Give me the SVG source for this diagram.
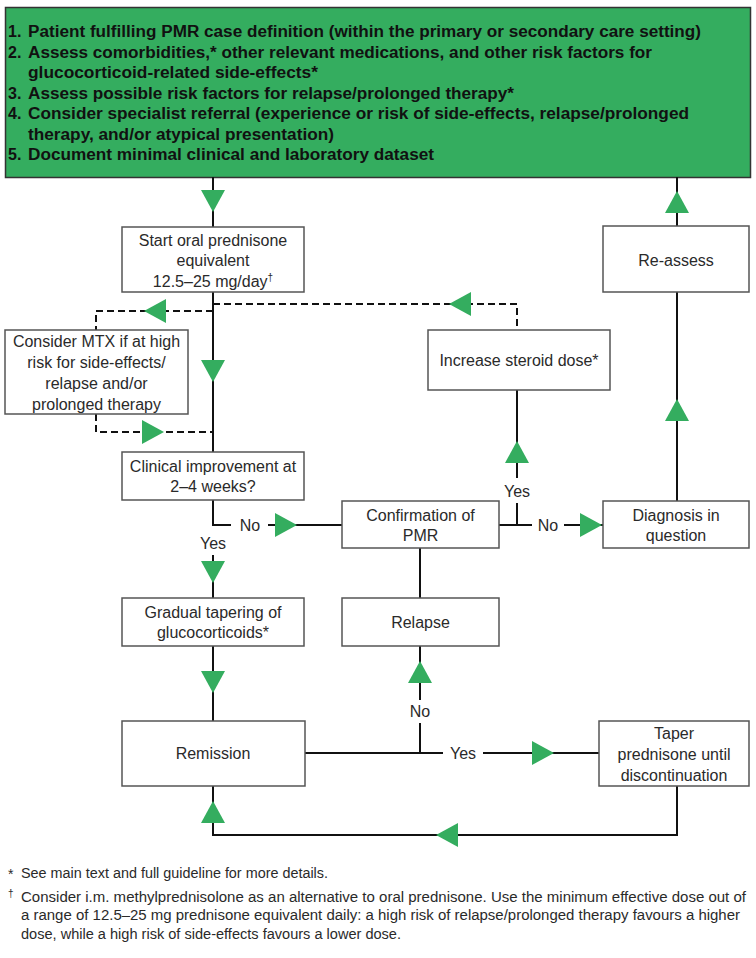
<svg xmlns="http://www.w3.org/2000/svg" width="756" height="958" viewBox="0 0 756 958">
<defs>
<style>
.bg{fill:#ffffff}
.box{fill:#ffffff;stroke:#555555;stroke-width:1.5}
.hdr{fill:#34ad5f;stroke:#333333;stroke-width:1.5}
.t{font-family:"Liberation Sans",Arial,sans-serif;font-size:16px;fill:#2a2a2a;text-anchor:middle}
.b{font-family:"Liberation Sans",Arial,sans-serif;font-size:16px;font-weight:bold;fill:#111111}
.f{font-family:"Liberation Sans",Arial,sans-serif;font-size:14px;fill:#2a2a2a}
.sup{font-size:10px}
.ln{fill:none;stroke:#111111;stroke-width:2}
.dash{fill:none;stroke:#111111;stroke-width:2;stroke-dasharray:7 4}
.ar{fill:#34ad5f}
.lbl{font-family:"Liberation Sans",Arial,sans-serif;font-size:16px;fill:#2a2a2a;text-anchor:middle}
</style>
<path id="aD" d="M-12,-11 L12,-11 L0,11 Z"/>
<path id="aU" d="M-12,11 L12,11 L0,-11 Z"/>
<path id="aR" d="M-11,-12 L-11,12 L11,0 Z"/>
<path id="aL" d="M11,-12 L11,12 L-11,0 Z"/>
</defs>
<rect class="bg" x="0" y="0" width="756" height="958"/>

<g id="header">
<rect class="hdr" x="5.5" y="7.5" width="745" height="170"/>
<text class="b" x="8" y="37">1.</text>
<text class="b" x="28" y="37" textLength="673" lengthAdjust="spacingAndGlyphs">Patient fulfilling PMR case definition (within the primary or secondary care setting)</text>
<text class="b" x="8" y="57.5">2.</text>
<text class="b" x="28" y="57.5" textLength="624" lengthAdjust="spacingAndGlyphs">Assess comorbidities,* other relevant medications, and other risk factors for</text>
<text class="b" x="28" y="77.5" textLength="290" lengthAdjust="spacingAndGlyphs">glucocorticoid-related side-effects*</text>
<text class="b" x="8" y="98.5">3.</text>
<text class="b" x="28" y="98.5" textLength="486" lengthAdjust="spacingAndGlyphs">Assess possible risk factors for relapse/prolonged therapy*</text>
<text class="b" x="8" y="118.5">4.</text>
<text class="b" x="28" y="118.5" textLength="661" lengthAdjust="spacingAndGlyphs">Consider specialist referral (experience or risk of side-effects, relapse/prolonged</text>
<text class="b" x="28" y="139.5" textLength="306" lengthAdjust="spacingAndGlyphs">therapy, and/or atypical presentation)</text>
<text class="b" x="8" y="159.5">5.</text>
<text class="b" x="28" y="159.5" textLength="406" lengthAdjust="spacingAndGlyphs">Document minimal clinical and laboratory dataset</text>
</g>

<g id="connectors">
<path class="ln" d="M213,177 V227"/>
<path class="ln" d="M213,292 V452"/>
<path class="dash" d="M213,304 H517 V330"/>
<path class="dash" d="M213,311 H96 V330"/>
<path class="dash" d="M96,414 V432 H213"/>
<path class="ln" d="M213,500 V525 H231"/>
<path class="ln" d="M268,525 H342"/>
<path class="ln" d="M213,555 V598"/>
<path class="ln" d="M499,525 H532"/>
<path class="ln" d="M564,525 H603"/>
<path class="ln" d="M517,525 V503"/>
<path class="ln" d="M517,478 V390"/>
<path class="ln" d="M677,501 V292"/>
<path class="ln" d="M677,226 V177"/>
<path class="ln" d="M420,548 V598"/>
<path class="ln" d="M420,646 V700"/>
<path class="ln" d="M420,723 V753"/>
<path class="ln" d="M305,753 H443"/>
<path class="ln" d="M483,753 H599"/>
<path class="ln" d="M213,646 V721"/>
<path class="ln" d="M677,786 V835 H213 V786"/>
<use href="#aD" class="ar" x="213" y="201"/>
<use href="#aL" class="ar" x="460" y="304"/>
<use href="#aL" class="ar" x="155" y="311"/>
<use href="#aD" class="ar" x="213" y="371"/>
<use href="#aR" class="ar" x="153" y="432"/>
<use href="#aR" class="ar" x="286" y="525"/>
<use href="#aD" class="ar" x="213" y="572"/>
<use href="#aR" class="ar" x="591" y="525"/>
<use href="#aU" class="ar" x="517" y="452"/>
<use href="#aU" class="ar" x="677" y="410"/>
<use href="#aU" class="ar" x="677" y="202"/>
<use href="#aU" class="ar" x="420" y="672"/>
<use href="#aR" class="ar" x="543" y="753"/>
<use href="#aD" class="ar" x="213" y="682"/>
<use href="#aL" class="ar" x="447" y="835"/>
<use href="#aU" class="ar" x="213" y="812"/>
<text class="lbl" x="250" y="530.5">No</text>
<text class="lbl" x="213" y="548.5">Yes</text>
<text class="lbl" x="548" y="530.5">No</text>
<text class="lbl" x="517" y="497">Yes</text>
<text class="lbl" x="420" y="717">No</text>
<text class="lbl" x="463" y="758.5">Yes</text>
</g>

<g id="start">
<rect class="box" x="122" y="227" width="182" height="65"/>
<text class="t" x="213" y="245.5">Start oral prednisone</text>
<text class="t" x="213" y="265.5">equivalent</text>
<text class="t" x="213" y="286.5">12.5–25 mg/day<tspan class="sup" dy="-6">†</tspan></text>
</g>

<g id="mtx">
<rect class="box" x="5" y="330" width="183" height="84"/>
<text class="t" x="96.5" y="347">Consider MTX if at high</text>
<text class="t" x="96.5" y="368">risk for side-effects/</text>
<text class="t" x="96.5" y="389">relapse and/or</text>
<text class="t" x="96.5" y="409.5">prolonged therapy</text>
</g>

<g id="increase">
<rect class="box" x="428" y="330" width="182" height="60"/>
<text class="t" x="519" y="366">Increase steroid dose*</text>
</g>

<g id="reassess">
<rect class="box" x="603" y="226" width="146" height="66"/>
<text class="t" x="676" y="265.5">Re-assess</text>
</g>

<g id="clinical">
<rect class="box" x="122" y="452" width="182" height="48"/>
<text class="t" x="213" y="471.5">Clinical improvement at</text>
<text class="t" x="213" y="492">2–4 weeks?</text>
</g>

<g id="confirmation">
<rect class="box" x="342" y="501" width="157" height="47"/>
<text class="t" x="420.5" y="520.5">Confirmation of</text>
<text class="t" x="420.5" y="541">PMR</text>
</g>

<g id="diagnosis">
<rect class="box" x="603" y="501" width="146" height="47"/>
<text class="t" x="676" y="520.5">Diagnosis in</text>
<text class="t" x="676" y="540.5">question</text>
</g>

<g id="tapering">
<rect class="box" x="122" y="598" width="182" height="48"/>
<text class="t" x="213" y="618">Gradual tapering of</text>
<text class="t" x="213" y="638">glucocorticoids*</text>
</g>

<g id="relapse">
<rect class="box" x="342" y="598" width="157" height="48"/>
<text class="t" x="420.5" y="628">Relapse</text>
</g>

<g id="remission">
<rect class="box" x="122" y="721" width="183" height="65"/>
<text class="t" x="213" y="758.5">Remission</text>
</g>

<g id="taper">
<rect class="box" x="599" y="721" width="150" height="65"/>
<text class="t" x="674" y="738.5">Taper</text>
<text class="t" x="674" y="759.5">prednisone until</text>
<text class="t" x="674" y="780.5">discontinuation</text>
</g>

<g id="footnotes">
<text class="f" x="8" y="879">*</text>
<text class="f" x="21" y="878" textLength="307" lengthAdjust="spacingAndGlyphs">See main text and full guideline for more details.</text>
<text class="f sup" x="8" y="897">†</text>
<text class="f" x="21" y="902" textLength="725" lengthAdjust="spacingAndGlyphs">Consider i.m. methylprednisolone as an alternative to oral prednisone. Use the minimum effective dose out of</text>
<text class="f" x="21" y="920" textLength="719" lengthAdjust="spacingAndGlyphs">a range of 12.5–25 mg prednisone equivalent daily: a high risk of relapse/prolonged therapy favours a higher</text>
<text class="f" x="21" y="939" textLength="380" lengthAdjust="spacingAndGlyphs">dose, while a high risk of side-effects favours a lower dose.</text>
</g>
</svg>
